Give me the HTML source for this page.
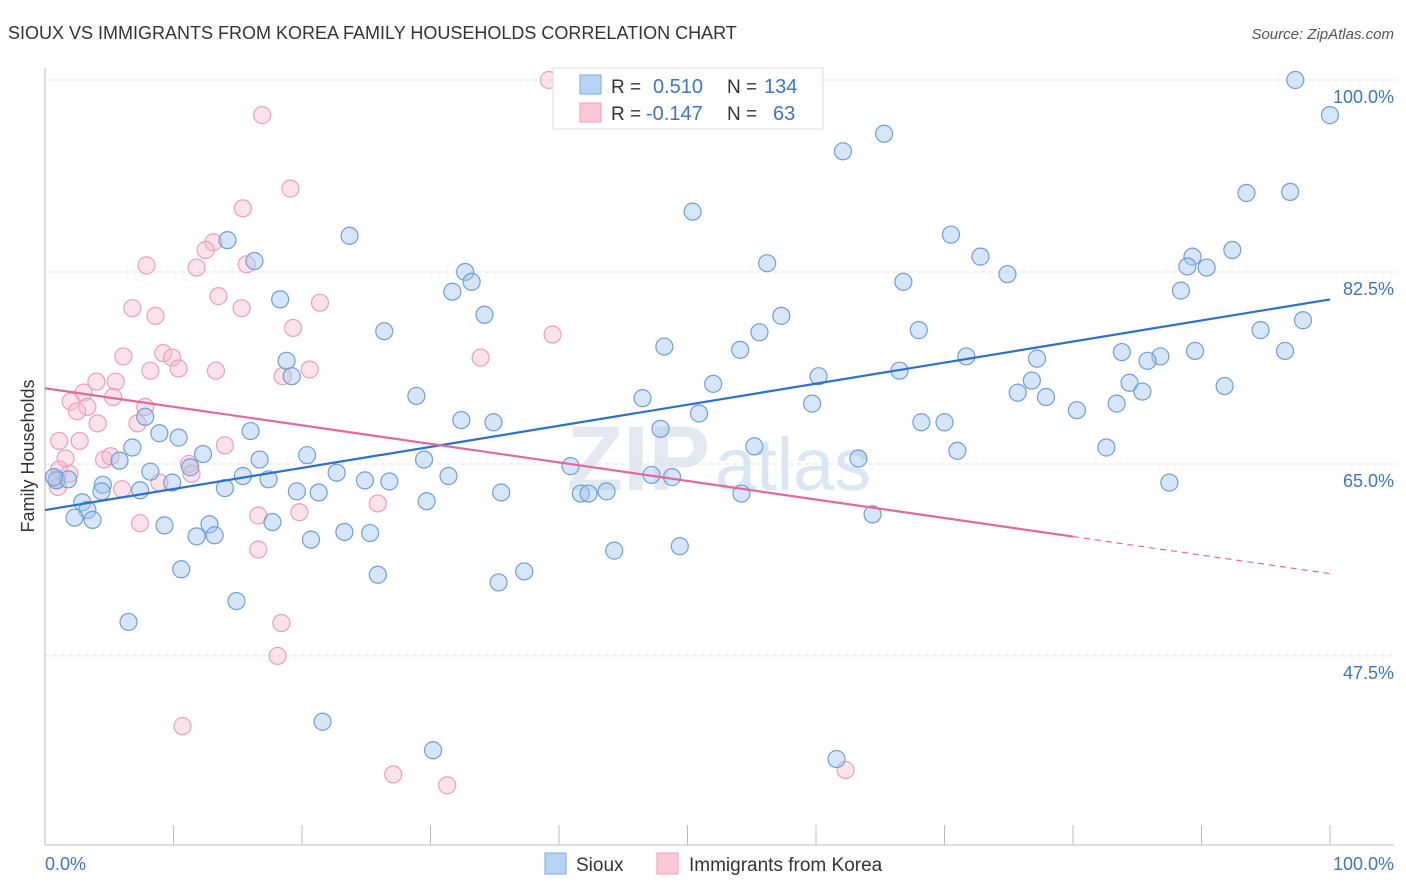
<!DOCTYPE html>
<html><head><meta charset="utf-8"><style>
body{margin:0;background:#fff;font-family:"Liberation Sans",sans-serif}
svg{display:block}
</style></head><body>
<svg id="chart" width="1406" height="892">
<text x="8" y="39" font-size="18" fill="#333">SIOUX VS IMMIGRANTS FROM KOREA FAMILY HOUSEHOLDS CORRELATION CHART</text>
<text x="1394" y="39" font-size="15" fill="#555" font-style="italic" text-anchor="end">Source: ZipAtlas.com</text>
<text x="710" y="490" font-size="92" fill="#e4e9f0" font-weight="bold" text-anchor="end">ZIP</text>
<text x="715" y="490" font-size="74" fill="#dbe6f4">atlas</text>
<g id="grid"></g><g id="axes"></g><g id="pts"></g><g id="lines"></g>
<text transform="translate(34,456) rotate(-90)" font-size="18" fill="#333" text-anchor="middle">Family Households</text>
<text x="45" y="870" font-size="18" fill="#3a74d0">0.0%</text>
<text x="1394" y="870" font-size="18" fill="#3a74d0" text-anchor="end">100.0%</text>
<g>
<rect x="553" y="68" width="270" height="61" fill="#fff" stroke="#ddd"/>
<rect x="580" y="75" width="21" height="19" fill="#b9d3f5" stroke="#7ea8e2"/>
<rect x="580" y="103" width="21" height="19" fill="#fbc8d7" stroke="#ef9db8"/>
<text x="611" y="93" font-size="19" fill="#333">R =</text><text x="653" y="93" font-size="20" fill="#3a74d0">0.510</text>
<text x="727" y="93" font-size="19" fill="#333">N =</text><text x="764" y="93" font-size="20" fill="#3a74d0">134</text>
<text x="611" y="120" font-size="19" fill="#333">R =</text><text x="646" y="120" font-size="20" fill="#3a74d0">-0.147</text>
<text x="727" y="120" font-size="19" fill="#333">N =</text><text x="773" y="120" font-size="20" fill="#3a74d0">63</text>
</g>
<g>
<rect x="545" y="853" width="21" height="21" fill="#b9d3f5" stroke="#7ea8e2"/>
<text x="576" y="871" font-size="19" fill="#333">Sioux</text>
<rect x="657" y="853" width="21" height="21" fill="#fbc8d7" stroke="#ef9db8"/>
<text x="689" y="871" font-size="19" fill="#333">Immigrants from Korea</text>
</g>
</svg>
<script>
const yTicks=[100,82.5,65,47.5];
const yTickLabels=["100.0%","82.5%","65.0%","47.5%"];
const xTicks=[0,10,20,30,40,50,60,70,80,90,100];
const siouxX=[43.4,97.3,100,62.1,65.3,93.5,96.9,50.4,23.7,14.2,16.3,70.5,72.8,92.4,89.3,88.9,90.4,56.2,32.7,33.2,31.7,74.9,66.8,88.4,18.3,34.2,57.3,97.9,94.6,26.4,55.6,68.0,48.2,54.1,83.8,89.5,96.5,86.8,71.7,77.2,85.8,18.8,19.2,60.2,66.5,52.0,76.8,84.4,91.8,85.4,28.9,46.5,75.7,77.9,59.7,83.4,80.3,7.8,50.9,32.4,34.9,68.2,70.0,8.9,10.4,16.0,47.9,6.8,55.2,71.0,82.6,12.3,20.4,29.5,63.3,5.8,16.7,40.9,11.3,8.2,31.4,22.7,4.5,2.9,9.9,15.4,17.4,24.9,26.8,14.0,7.4,19.6,21.3,35.5,47.2,48.8,87.5,41.7,42.3,43.7,54.2,29.7,4.4,3.3,2.3,3.7,9.3,12.8,17.7,23.3,25.3,11.8,13.2,20.7,64.4,0.9,1.8,0.7,44.3,49.4,10.6,25.9,37.3,35.3,14.9,6.5,21.6,30.2,61.6];
const siouxY=[99.8,100,96.8,93.5,95.1,89.7,89.8,88.0,85.8,85.4,83.5,85.9,83.9,84.5,83.9,83.0,82.9,83.3,82.5,81.6,80.7,82.3,81.6,80.8,80.0,78.6,78.5,78.1,77.2,77.1,77.0,77.2,75.7,75.4,75.2,75.3,75.3,74.8,74.8,74.6,74.4,74.4,73.0,73.0,73.5,72.3,72.6,72.4,72.1,71.6,71.2,71.0,71.5,71.1,70.5,70.5,69.9,69.3,69.6,69.0,68.8,68.8,68.8,67.8,67.4,68.0,68.2,66.5,66.6,66.2,66.5,65.9,65.8,65.4,65.5,65.3,65.4,64.8,64.7,64.3,63.9,64.2,63.1,61.5,63.3,63.9,63.6,63.5,63.4,62.8,62.6,62.5,62.4,62.4,64.0,63.8,63.3,62.3,62.3,62.5,62.3,61.6,62.5,60.8,60.1,59.9,59.4,59.5,59.7,58.8,58.7,58.4,58.5,58.1,60.4,63.5,63.6,63.8,57.1,57.5,55.4,54.9,55.2,54.2,52.5,50.6,41.5,38.9,38.1];
const koreaX=[39.2,16.9,19.1,15.4,13.1,12.5,7.9,11.8,15.7,13.5,21.4,6.8,15.3,8.6,19.3,39.5,6.1,9.2,9.9,10.4,13.3,20.6,18.5,33.9,8.2,4.0,5.5,3.0,2.0,5.3,3.3,2.5,7.8,4.1,7.2,14.0,2.7,1.1,1.6,4.6,5.1,6.0,11.2,11.4,8.9,1.1,0.9,1.9,1.0,25.9,19.8,16.6,7.4,16.6,18.4,18.1,10.7,27.1,31.3,62.3];
const koreaY=[100,96.8,90.1,88.3,85.2,84.5,83.1,82.9,83.2,80.3,79.7,79.2,79.2,78.5,77.4,76.8,74.8,75.1,74.7,73.7,73.5,73.6,73.0,74.7,73.5,72.5,72.5,71.5,70.7,71.1,70.2,69.8,70.2,68.7,68.7,66.7,67.1,67.1,65.5,65.4,65.7,62.7,65.0,64.1,63.3,64.5,63.6,64.1,62.9,61.4,60.6,60.3,59.6,57.2,50.5,47.5,41.1,36.7,35.7,37.1];
const siouxFit=[60.8,80.0];
const koreaFit=[71.9,55.0];
const koreaSolidEnd=80;
const NS="http://www.w3.org/2000/svg";
const xs=v=>45+v*12.85, ys=v=>80+(100-v)*10.97;
function mk(tag,attrs,parent){const e=document.createElementNS(NS,tag);for(const k in attrs)e.setAttribute(k,attrs[k]);document.getElementById(parent).appendChild(e);return e;}
yTicks.forEach((t,i)=>{
 const l=mk('line',{x1:45,x2:1394,y1:ys(t),y2:ys(t),stroke:'#ddd','stroke-dasharray':'4,4'},'grid');
 
 
 const tx=mk('text',{x:1394,y:ys(t)+23,'font-size':18,fill:'#3a74d0','text-anchor':'end'},'grid');
 tx.textContent=yTickLabels[i];
 
 
});
let ax=mk('line',{x1:45,x2:45,y1:68,y2:845,stroke:'#bbb'},'axes');


ax=mk('line',{x1:45,x2:1394,y1:845,y2:845,stroke:'#bbb'},'axes');


xTicks.forEach(t=>{const l=mk('line',{x1:xs(t),x2:xs(t),y1:825,y2:845,stroke:'#bbb'},'axes');
 
 });
function pts(X,Y,fill,stroke,name){X.forEach((v,i)=>{const c=mk('circle',{cx:xs(v),cy:ys(Y[i]),r:8.5,fill:fill,stroke:stroke,'stroke-width':1.2},'pts');
 
 });}
pts(koreaX,koreaY,'rgba(248,185,205,0.4)','#eb9fba','korea-point');
pts(siouxX,siouxY,'rgba(165,198,238,0.45)','#6d9fd8','sioux-point');
let ln=mk('line',{x1:xs(0),y1:ys(siouxFit[0]),x2:xs(100),y2:ys(siouxFit[1]),stroke:'#2b6fd1','stroke-width':2.2},'lines');


const kAt=x=>koreaFit[0]+(koreaFit[1]-koreaFit[0])*x/100;
ln=mk('line',{x1:xs(0),y1:ys(kAt(0)),x2:xs(koreaSolidEnd),y2:ys(kAt(koreaSolidEnd)),stroke:'#e4689a','stroke-width':2.2},'lines');


ln=mk('line',{x1:xs(koreaSolidEnd),y1:ys(kAt(koreaSolidEnd)),x2:xs(100),y2:ys(kAt(100)),stroke:'#e4689a','stroke-width':1.2,'stroke-dasharray':'6,5'},'lines');


</script>
</body></html>
